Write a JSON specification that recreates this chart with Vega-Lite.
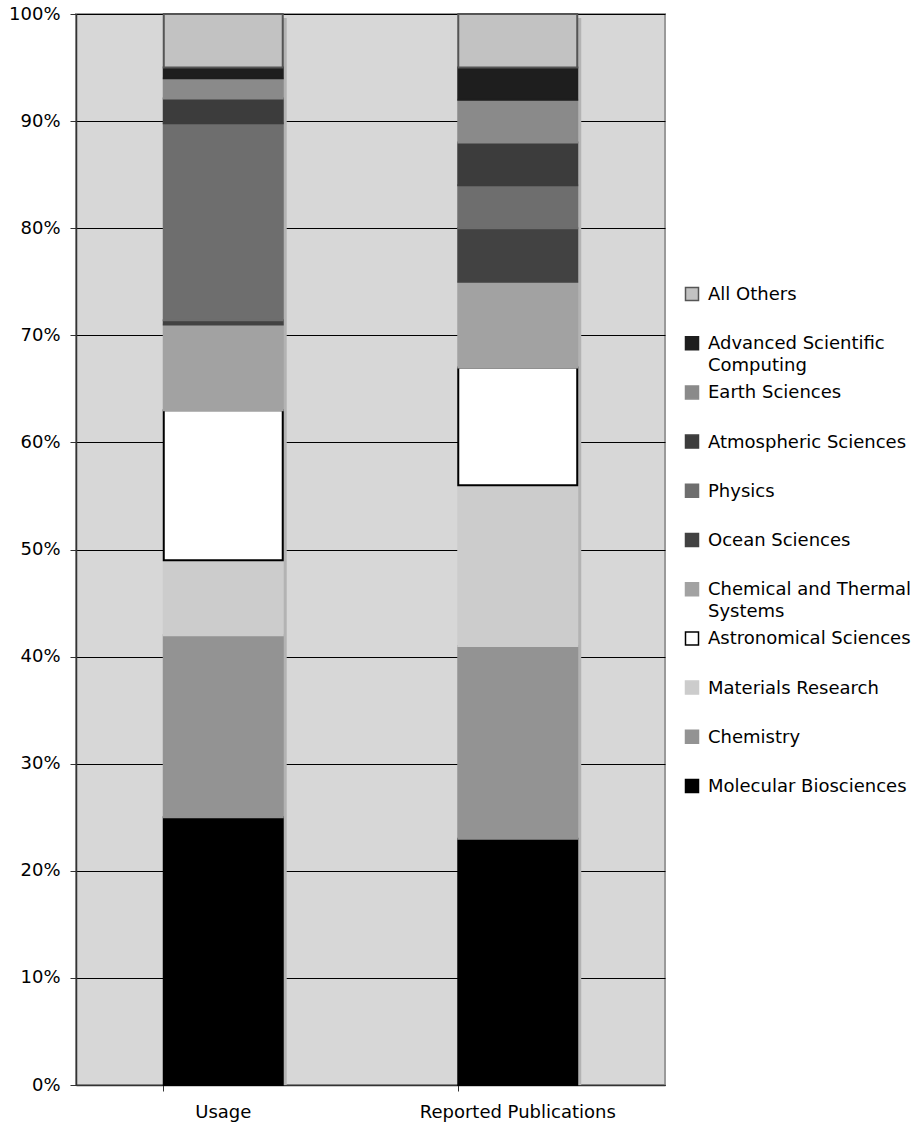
{
  "$schema": "https://vega.github.io/schema/vega-lite/v6.json",
  "width": 589,
  "height": 1071,
  "autosize": "none",
  "padding": {"left": 76, "top": 14, "right": 258, "bottom": 40},
  "background": "white",
  "config": {
    "font": "DejaVu Sans",
    "view": {"fill": "#d7d7d7", "stroke": "#9a9a9a", "strokeWidth": 2}
  },
  "data": {
    "values": [
      {"group": "Usage", "discipline": "Molecular Biosciences", "order": 1, "pct": 25},
      {"group": "Usage", "discipline": "Chemistry", "order": 2, "pct": 17},
      {"group": "Usage", "discipline": "Materials Research", "order": 3, "pct": 7},
      {"group": "Usage", "discipline": "Astronomical Sciences", "order": 4, "pct": 14},
      {"group": "Usage", "discipline": "Chemical and Thermal Systems", "order": 5, "pct": 8},
      {"group": "Usage", "discipline": "Ocean Sciences", "order": 6, "pct": 0.4},
      {"group": "Usage", "discipline": "Physics", "order": 7, "pct": 18.4},
      {"group": "Usage", "discipline": "Atmospheric Sciences", "order": 8, "pct": 2.3},
      {"group": "Usage", "discipline": "Earth Sciences", "order": 9, "pct": 1.9},
      {"group": "Usage", "discipline": "Advanced Scientific Computing", "order": 10, "pct": 1.0},
      {"group": "Usage", "discipline": "All Others", "order": 11, "pct": 5},
      {"group": "Reported Publications", "discipline": "Molecular Biosciences", "order": 1, "pct": 23},
      {"group": "Reported Publications", "discipline": "Chemistry", "order": 2, "pct": 18},
      {"group": "Reported Publications", "discipline": "Materials Research", "order": 3, "pct": 15},
      {"group": "Reported Publications", "discipline": "Astronomical Sciences", "order": 4, "pct": 11},
      {"group": "Reported Publications", "discipline": "Chemical and Thermal Systems", "order": 5, "pct": 8},
      {"group": "Reported Publications", "discipline": "Ocean Sciences", "order": 6, "pct": 5},
      {"group": "Reported Publications", "discipline": "Physics", "order": 7, "pct": 4},
      {"group": "Reported Publications", "discipline": "Atmospheric Sciences", "order": 8, "pct": 4},
      {"group": "Reported Publications", "discipline": "Earth Sciences", "order": 9, "pct": 4},
      {"group": "Reported Publications", "discipline": "Advanced Scientific Computing", "order": 10, "pct": 3},
      {"group": "Reported Publications", "discipline": "All Others", "order": 11, "pct": 5}
    ]
  },
  "encoding": {
    "x": {
      "field": "group",
      "type": "nominal",
      "sort": ["Usage", "Reported Publications"],
      "scale": {"paddingInner": 0.596, "paddingOuter": 0.298},
      "axis": {
        "title": null,
        "labelAngle": 0,
        "labelFontSize": 18,
        "labelColor": "#000",
        "labelPadding": 12,
        "labelLimit": 400,
        "bandPosition": 0,
        "tickSize": 6,
        "tickColor": "#333",
        "domainColor": "#333",
        "domainWidth": 1.5
      }
    }
  },
  "layer": [
    {
      "mark": {"type": "bar", "color": "#b3b3b3", "xOffset": 4, "yOffset": 4, "y2Offset": 4, "clip": true},
      "encoding": {
        "y": {"aggregate": "sum", "field": "pct", "type": "quantitative", "scale": {"domain": [0, 100]}}
      }
    },
    {
      "mark": {"type": "bar", "strokeWidth": 2},
      "encoding": {
        "y": {
          "field": "pct",
          "type": "quantitative",
          "stack": "zero",
          "scale": {"domain": [0, 100], "nice": false},
          "axis": {
            "title": null,
            "values": [0, 10, 20, 30, 40, 50, 60, 70, 80, 90, 100],
            "labelExpr": "datum.value + '%'",
            "labelFontSize": 18,
            "labelColor": "#000",
            "labelPadding": 10,
            "tickSize": 6,
            "tickColor": "#333",
            "domainColor": "#333",
            "domainWidth": 1.5,
            "grid": true,
            "gridColor": "#000",
            "gridWidth": 1,
            "gridOpacity": 1
          }
        },
        "order": {"field": "order", "type": "quantitative"},
        "fill": {
          "field": "discipline",
          "type": "nominal",
          "sort": ["All Others", "Advanced Scientific Computing", "Earth Sciences", "Atmospheric Sciences", "Physics", "Ocean Sciences", "Chemical and Thermal Systems", "Astronomical Sciences", "Materials Research", "Chemistry", "Molecular Biosciences"],
          "scale": {
            "domain": ["All Others", "Advanced Scientific Computing", "Earth Sciences", "Atmospheric Sciences", "Physics", "Ocean Sciences", "Chemical and Thermal Systems", "Astronomical Sciences", "Materials Research", "Chemistry", "Molecular Biosciences"],
            "range": ["#c2c2c2", "#1e1e1e", "#8a8a8a", "#3c3c3c", "#6e6e6e", "#424242", "#a2a2a2", "#ffffff", "#cccccc", "#939393", "#000000"]
          },
          "legend": {
            "title": null,
            "orient": "none",
            "legendX": 607,
            "legendY": 271,
            "symbolType": "square",
            "symbolSize": 169,
            "symbolStrokeWidth": 1.5,
            "labelFontSize": 18,
            "labelColor": "#000",
            "labelLimit": 300,
            "labelOffset": 7,
            "labelBaseline": "top",
            "gridAlign": "all",
            "rowPadding": 7.2,
            "labelExpr": "datum.label == 'Advanced Scientific Computing' ? ['Advanced Scientific', 'Computing'] : datum.label == 'Chemical and Thermal Systems' ? ['Chemical and Thermal', 'Systems'] : datum.label",
            "encode": {
              "labels": {"update": {"dy": {"value": -8}, "lineHeight": {"value": 22}}}
            }
          }
        },
        "stroke": {
          "field": "discipline",
          "type": "nominal",
          "scale": {
            "domain": ["All Others", "Advanced Scientific Computing", "Earth Sciences", "Atmospheric Sciences", "Physics", "Ocean Sciences", "Chemical and Thermal Systems", "Astronomical Sciences", "Materials Research", "Chemistry", "Molecular Biosciences"],
            "range": ["#555555", "#1e1e1e", "#8a8a8a", "#3c3c3c", "#6e6e6e", "#424242", "#a2a2a2", "#000000", "#cccccc", "#939393", "#000000"]
          },
          "legend": null
        }
      }
    }
  ]
}
